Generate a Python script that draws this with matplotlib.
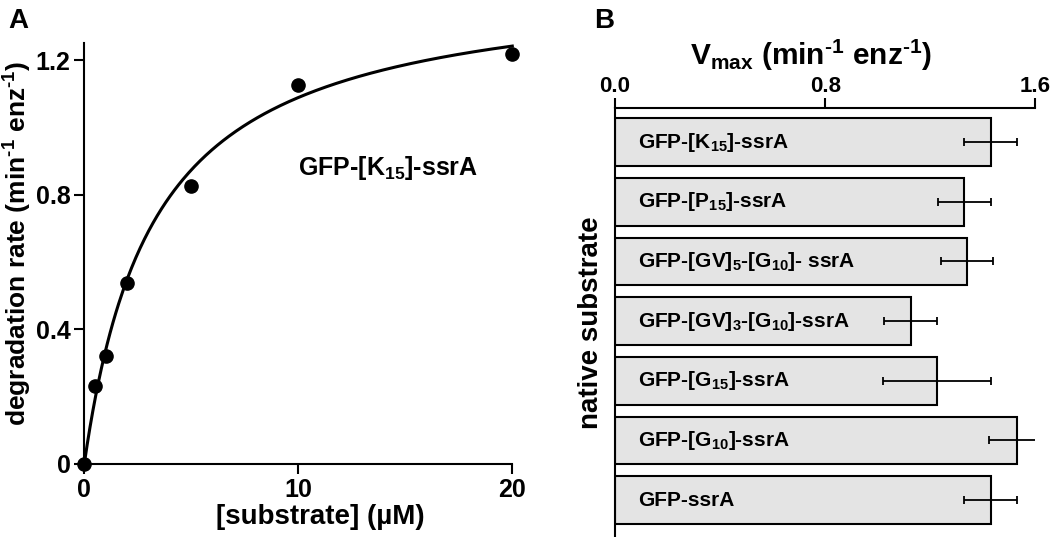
import numpy as np
import matplotlib
matplotlib.use('Agg')
from matplotlib import pyplot as plt

plt.rcParams['font.family'] = ['Liberation Sans', 'DejaVu Sans']
plt.rcParams['font.weight'] = 'bold'
plt.rcParams['axes.labelweight'] = 'bold'
plt.rcParams['mathtext.fontset'] = 'custom'
plt.rcParams['mathtext.rm'] = 'Liberation Sans:bold'
plt.rcParams['mathtext.bf'] = 'Liberation Sans:bold'
plt.rcParams['mathtext.it'] = 'Liberation Sans:bold'

# panel A: degradation rate vs substrate concentration
substrate = [0, 0.5, 1, 2, 5, 10, 20]
rate = [0.0, 0.23, 0.319, 0.537, 0.826, 1.127, 1.218]
vmax_fit = 1.445
km_fit = 3.27

# panel B: Vmax per substrate
substrates = [r'GFP-[K$_{15}$]-ssrA', r'GFP-[P$_{15}$]-ssrA',
              r'GFP-[GV]$_5$-[G$_{10}$]- ssrA', r'GFP-[GV]$_3$-[G$_{10}$]-ssrA',
              r'GFP-[G$_{15}$]-ssrA', r'GFP-[G$_{10}$]-ssrA', 'GFP-ssrA']
vmax = [1.43, 1.33, 1.34, 1.125, 1.225, 1.53, 1.43]
vmax_err = [0.10, 0.10, 0.10, 0.10, 0.205, 0.105, 0.10]

fig = plt.figure(figsize=(10.5, 5.37), dpi=100)

# ---- A ----
ax = fig.add_axes([0.0803, 0.1365, 0.4076, 0.784])
xs = np.linspace(0, 20, 300)
ax.plot(xs, vmax_fit * xs / (km_fit + xs), color='black', lw=2.2, clip_on=False)
ax.plot(substrate, rate, 'o', color='black', ms=9.5, clip_on=False, zorder=5)
ax.set_xlim(0, 20)
ax.set_ylim(0, 1.252)
ax.set_xticks([0, 10, 20])
ax.set_yticks([0, 0.4, 0.8, 1.2])
ax.set_yticklabels(['0', '0.4', '0.8', '1.2'])
for s in ['top', 'right']:
    ax.spines[s].set_visible(False)
for s in ['left', 'bottom']:
    ax.spines[s].set_linewidth(1.5)
ax.tick_params(direction='out', length=7, width=1.5, labelsize=18, pad=3)
ax.set_xlabel('[substrate] (µM)', fontsize=20)
ax.xaxis.set_label_coords(0.551, -0.095)
ax.set_ylabel(r'degradation rate (min$^{\text{-1}}$ enz$^{\text{-1}}$)', fontsize=19)
ax.yaxis.set_label_coords(-0.117, 0.523)
ax.text(0.92, 0.703, r'GFP-[K$_{15}$]-ssrA', transform=ax.transAxes, fontsize=18,
        ha='right', va='center')
fig.text(0.008, 0.985, 'A', fontsize=20, fontweight='bold', va='top', ha='left')

# ---- B ----
bx = fig.add_axes([0.5857, 0.0, 0.4003, 0.7994])
ypos = np.arange(len(substrates))
bx.barh(ypos, vmax, height=0.8, color='#e4e4e4', edgecolor='black', lw=1.5)
bx.errorbar(vmax, ypos, xerr=vmax_err, fmt='none', ecolor='black', elinewidth=1.3,
            capsize=3, capthick=1.3)
for i, lab in enumerate(substrates):
    bx.text(0.088, ypos[i], lab, fontsize=15, ha='left', va='center')
bx.set_xlim(0, 1.6)
bx.set_ylim(6.617, -0.576)
bx.set_xticks([0, 0.8, 1.6])
bx.set_xticklabels(['0.0', '0.8', '1.6'])
bx.set_yticks([])
bx.xaxis.tick_top()
bx.xaxis.set_label_position('top')
for s in ['bottom', 'right']:
    bx.spines[s].set_visible(False)
for s in ['left', 'top']:
    bx.spines[s].set_linewidth(1.5)
bx.tick_params(axis='x', direction='out', length=7, width=1.5, labelsize=16, pad=1)
bx.set_xlabel(r'V$_{\mathrm{max}}$ (min$^{\text{-1}}$ enz$^{\text{-1}}$)', fontsize=21.5)
bx.xaxis.set_label_coords(0.466, 1.10)
bx.set_ylabel('native substrate', fontsize=20, labelpad=8)
fig.text(0.566, 0.985, 'B', fontsize=20, fontweight='bold', va='top', ha='left')

plt.savefig('out.png', dpi=100)
plt.close()
